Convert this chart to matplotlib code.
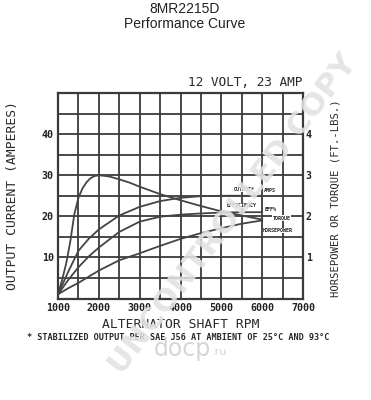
import matplotlib
matplotlib.use("Agg")
import matplotlib.pyplot as plt
from matplotlib.ticker import MultipleLocator

W, H = 371, 400

# curves (rpm, amps on the left scale)
rpm_torque = [1000, 1100, 1200, 1300, 1400, 1500, 1600, 1700, 1800, 1900, 2000,
              2250, 2500, 2750, 3000, 3500, 4000, 4500, 5000, 5500, 6000]
torque = [1.0, 4.5, 8.5, 13.8, 20.5, 24.5, 26.8, 28.3, 29.3, 29.8, 30.0,
          29.7, 29.0, 28.2, 27.2, 25.4, 23.9, 22.5, 21.2, 20.2, 19.2]

rpm_eff = [1000, 1250, 1500, 1750, 2000, 2500, 3000, 3500, 4000, 4500, 5000, 5500, 6000]
efficiency = [1.0, 6.5, 11.6, 14.5, 16.8, 20.2, 22.3, 23.7, 24.5, 24.9, 25.0, 25.0, 25.0]

rpm_out = [1000, 1250, 1500, 1750, 2000, 2500, 3000, 3500, 4000, 4500, 5000, 5500, 6000]
output = [1.0, 4.5, 7.6, 10.2, 12.4, 16.2, 18.7, 19.9, 20.4, 20.7, 20.9, 21.0, 21.0]

rpm_hp = [1000, 1250, 1500, 2000, 2500, 3000, 3500, 4000, 4500, 5000, 5500, 6000]
horsepower = [1.0, 2.5, 3.8, 6.8, 9.3, 11.0, 12.8, 14.5, 15.9, 17.1, 18.2, 19.0]

x_ticks = [1000, 2000, 3000, 4000, 5000, 6000, 7000]
y_ticks = [10, 20, 30, 40]
y2_ticks = [1, 2, 3, 4]

mono = "DejaVu Sans Mono"
ink = "#3a3a3a"


def fx(px):
    return px / W


def fy(py):
    return 1 - py / H


fig = plt.figure(figsize=(W / 100, H / 100), dpi=100)
fig.patch.set_facecolor("white")

ax = fig.add_axes([fx(58), fy(298.5), fx(303) - fx(58), fy(93) - fy(298.5)])
ax.set_xlim(1000, 7000)
ax.set_ylim(0, 50)
ax.xaxis.set_minor_locator(MultipleLocator(500))
ax.yaxis.set_minor_locator(MultipleLocator(5))
ax.set_xticks(x_ticks)
ax.set_yticks(y_ticks)
ax.grid(True, which="both", color=ink, lw=1.3)
ax.tick_params(which="both", length=0)
ax.tick_params(axis="x", pad=3)
ax.tick_params(axis="y", pad=3)
for lab in ax.get_xticklabels() + ax.get_yticklabels():
    lab.set_fontfamily(mono)
    lab.set_fontweight("bold")
    lab.set_fontsize(7.2)
    lab.set_color("#222222")
for s in ax.spines.values():
    s.set_color(ink)
    s.set_linewidth(1.6)

ax2 = ax.twinx()
ax2.set_ylim(0, 5)
ax2.set_yticks(y2_ticks)
ax2.tick_params(length=0, pad=2)
for lab in ax2.get_yticklabels():
    lab.set_fontfamily(mono)
    lab.set_fontweight("bold")
    lab.set_fontsize(7.2)
    lab.set_color("#222222")
for s in ax2.spines.values():
    s.set_visible(False)

for xs, ys in [(rpm_torque, torque), (rpm_eff, efficiency),
               (rpm_out, output), (rpm_hp, horsepower)]:
    ax.plot(xs, ys, color="#444444", lw=1.3, zorder=3)

small = dict(fontfamily=mono, fontweight="bold", fontsize=3.6, color="#222222",
             zorder=4, bbox=dict(facecolor="white", edgecolor="none", pad=0.1))
ax.text(5550, 26.6, "OUTPUT*", ha="center", va="center", **small)
ax.text(6050, 26.2, "AMPS", ha="left", va="center", **small)
ax.text(5500, 22.6, "EFFICIENCY", ha="center", va="center", **small)
ax.text(6050, 21.6, "EFF%", ha="left", va="center", **small)
ax.text(6250, 19.6, "TORQUE", ha="left", va="center", **small)
ax.text(6020, 16.6, "HORSEPOWER", ha="left", va="center", **small)

# titles and axis texts
fig.text(fx(185), fy(9), "8MR2215D", ha="center", va="center",
         fontfamily="Liberation Sans", fontsize=10, color="#222222")
fig.text(fx(185), fy(24), "Performance Curve", ha="center", va="center",
         fontfamily="Liberation Sans", fontsize=10, color="#222222")
fig.text(fx(302), fy(83), "12 VOLT, 23 AMP", ha="right", va="center",
         fontfamily=mono, fontsize=9.2, color="#2a2a2a")
fig.text(fx(13), fy(195), "OUTPUT CURRENT (AMPERES)", ha="center", va="center",
         rotation=90, fontfamily=mono, fontsize=9.4, color="#2a2a2a")
fig.text(fx(336), fy(198), "HORSEPOWER OR TORQUE (FT.-LBS.)", ha="center", va="center",
         rotation=90, fontfamily=mono, fontsize=7.6, color="#2a2a2a")
fig.text(fx(181), fy(324), "ALTERNATOR SHAFT RPM", ha="center", va="center",
         fontfamily=mono, fontsize=9.4, color="#2a2a2a")
fig.text(fx(178), fy(338), "* STABILIZED OUTPUT PER SAE J56 AT AMBIENT OF 25°C AND 93°C",
         ha="center", va="center", fontfamily=mono, fontweight="bold", fontsize=6.1,
         color="#2a2a2a")

# watermarks
fig.text(fx(233), fy(214), "UNCONTROLLED COPY", ha="center", va="center",
         rotation=53, fontfamily="DejaVu Sans", fontweight="bold", fontsize=22.5,
         color="#e2e2e2", alpha=0.9, zorder=10)
fig.text(fx(182), fy(349), "docp", ha="center", va="center",
         fontfamily="DejaVu Sans", fontsize=17, color="#d6d6d6", zorder=10)
fig.text(fx(212), fy(352), ".ru", ha="left", va="center",
         fontfamily="DejaVu Sans", fontsize=8, color="#d6d6d6", zorder=10)

fig.savefig("out.png", dpi=100)
